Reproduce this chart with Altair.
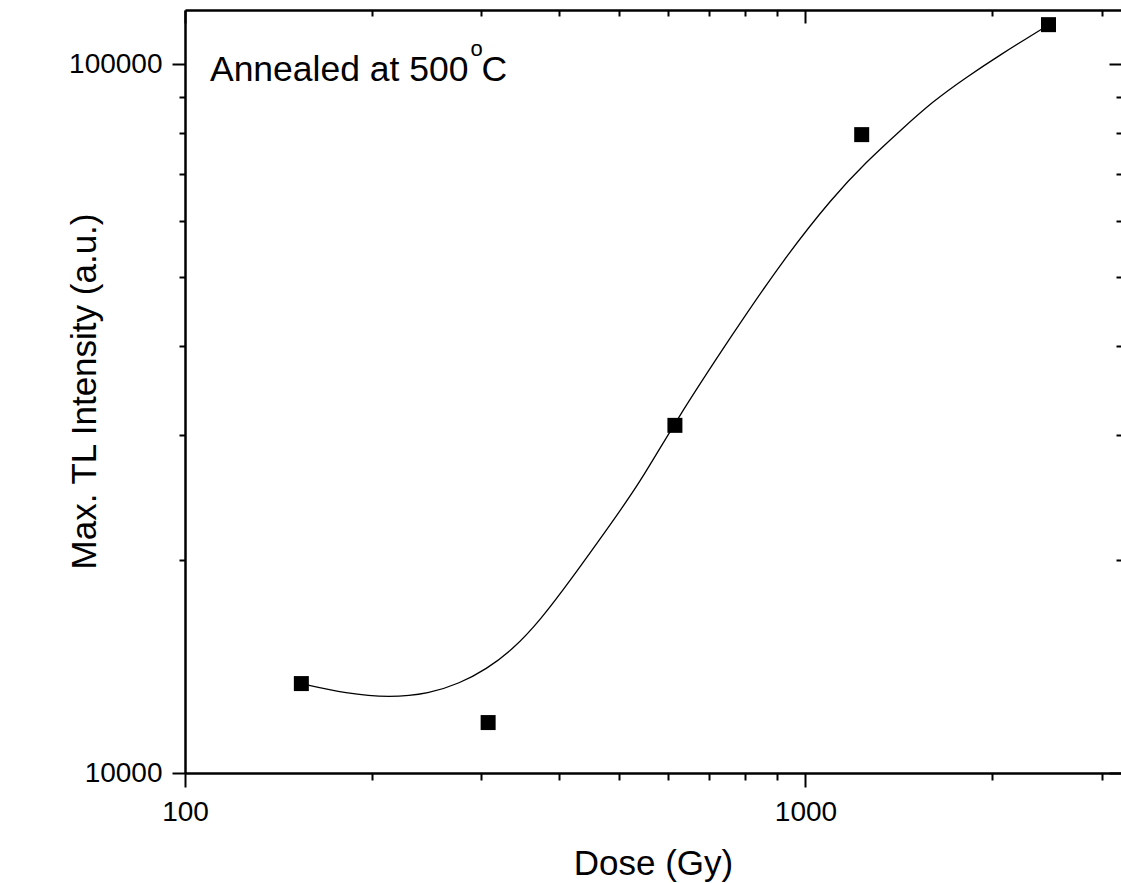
import altair as alt
import pandas as pd

# Measured data points (Dose in Gy, Max. TL intensity in a.u.)
dose = [154, 308, 616, 1232, 2464]
intensity = [13370, 11780, 30930, 79520, 113660]

# Fitted curve
curve_dose = [154.2, 181.9, 213.6, 247.7, 277.0, 305.9, 337.5, 372.7, 421.7, 477.3,
              540.1, 615.7, 763.6, 919.2, 1106.6, 1252.6, 1417.3, 1604.2, 1815.5,
              2053.6, 2383.8, 2458]
curve_intensity = [13365, 12942, 12774, 12942, 13378, 14005, 14940, 16370, 18899, 21993,
                   25597, 31230, 41660, 52860, 64940, 72740, 80380, 88600, 95760,
                   102870, 111560, 113400]

x_ticks = [100, 200, 300, 400, 500, 600, 700, 800, 900, 1000, 2000, 3000]
y_ticks = [10000, 20000, 30000, 40000, 50000, 60000, 70000, 80000, 90000, 100000]

annot_main = ["Annealed at 500"]
annot_main_x = [109.7]
annot_main_y = [94800]
annot_sup = ["o"]
annot_sup_x = [288.5]
annot_sup_y = [102500]
annot_end = ["C"]
annot_end_x = [300.5]
annot_end_y = [94800]

F = "Liberation Sans"

pts = pd.DataFrame({"dose": dose, "intensity": intensity})
crv = pd.DataFrame({"dose": curve_dose, "intensity": curve_intensity})
t1 = pd.DataFrame({"dose": annot_main_x, "intensity": annot_main_y, "label": annot_main})
t2 = pd.DataFrame({"dose": annot_sup_x, "intensity": annot_sup_y, "label": annot_sup})
t3 = pd.DataFrame({"dose": annot_end_x, "intensity": annot_end_y, "label": annot_end})

xs = alt.Scale(type="log", domain=[100, 3225], nice=False)
ys = alt.Scale(type="log", domain=[10000, 119200], nice=False)

x_major = "datum.value == 100 || datum.value == 1000"
y_major = "datum.value == 10000 || datum.value == 100000"

common = dict(tickWidth=2, tickColor="black", domainColor="black", domainWidth=2.5,
              grid=False, labelFont=F, labelColor="black", titleFont=F,
              titleColor="black", titleFontWeight="normal")

bottom_axis = alt.Axis(orient="bottom", values=x_ticks, format="d",
                       labelExpr=f"{x_major} ? datum.label : ''",
                       tickSize={"expr": f"{x_major} ? 14 : 7"},
                       labelFontSize=28, labelPadding=11, labelOverlap=False, labelFlush=False,
                       title="Dose (Gy)", titleFontSize=35, titleX=468, titleY=101,
                       titleAlign="center", titleBaseline="alphabetic", **common)
left_axis = alt.Axis(orient="left", values=y_ticks, format="d",
                     labelExpr=f"{y_major} ? datum.label : ''",
                     tickSize={"expr": f"{y_major} ? 13 : 6"},
                     labelFontSize=28, labelPadding=10, labelOverlap=False, labelFlush=False,
                     title="Max. TL Intensity (a.u.)", titleFontSize=35, titleAngle=270,
                     titleX=-90, titleY=381, titleAlign="center", titleBaseline="alphabetic",
                     **common)
top_axis = alt.Axis(orient="top", values=x_ticks, labels=False, title=None,
                    tickSize={"expr": f"{x_major} ? -13 : -6"}, **common)
right_axis = alt.Axis(orient="right", values=y_ticks, labels=False, title=None, domain=False,
                      tickSize={"expr": f"{y_major} ? -12 : -5"}, **common)

line = alt.Chart(crv).mark_line(color="black", strokeWidth=1.3, interpolate="basis").encode(
    x=alt.X("dose:Q", scale=xs, axis=top_axis),
    y=alt.Y("intensity:Q", scale=ys, axis=right_axis),
)

points = alt.Chart(pts).mark_square(size=225, color="black", opacity=1).encode(
    x=alt.X("dose:Q", scale=xs, axis=bottom_axis),
    y=alt.Y("intensity:Q", scale=ys, axis=left_axis),
)

def txt(df, size):
    return alt.Chart(df).mark_text(align="left", baseline="alphabetic", font=F,
                                   fontSize=size, color="black").encode(
        x=alt.X("dose:Q", scale=xs, axis=None),
        y=alt.Y("intensity:Q", scale=ys, axis=None),
        text="label:N",
    )

chart = alt.layer(line, points, txt(t1, 35.5), txt(t2, 22), txt(t3, 35.5)).resolve_axis(
    x="independent", y="independent"
).properties(
    width=936, height=763, autosize="none",
    padding={"left": 185, "top": 10, "right": 0, "bottom": 110},
    background="white",
).configure_view(strokeWidth=0)

chart.save("out.html", embed_options={"renderer": "svg", "actions": False})
